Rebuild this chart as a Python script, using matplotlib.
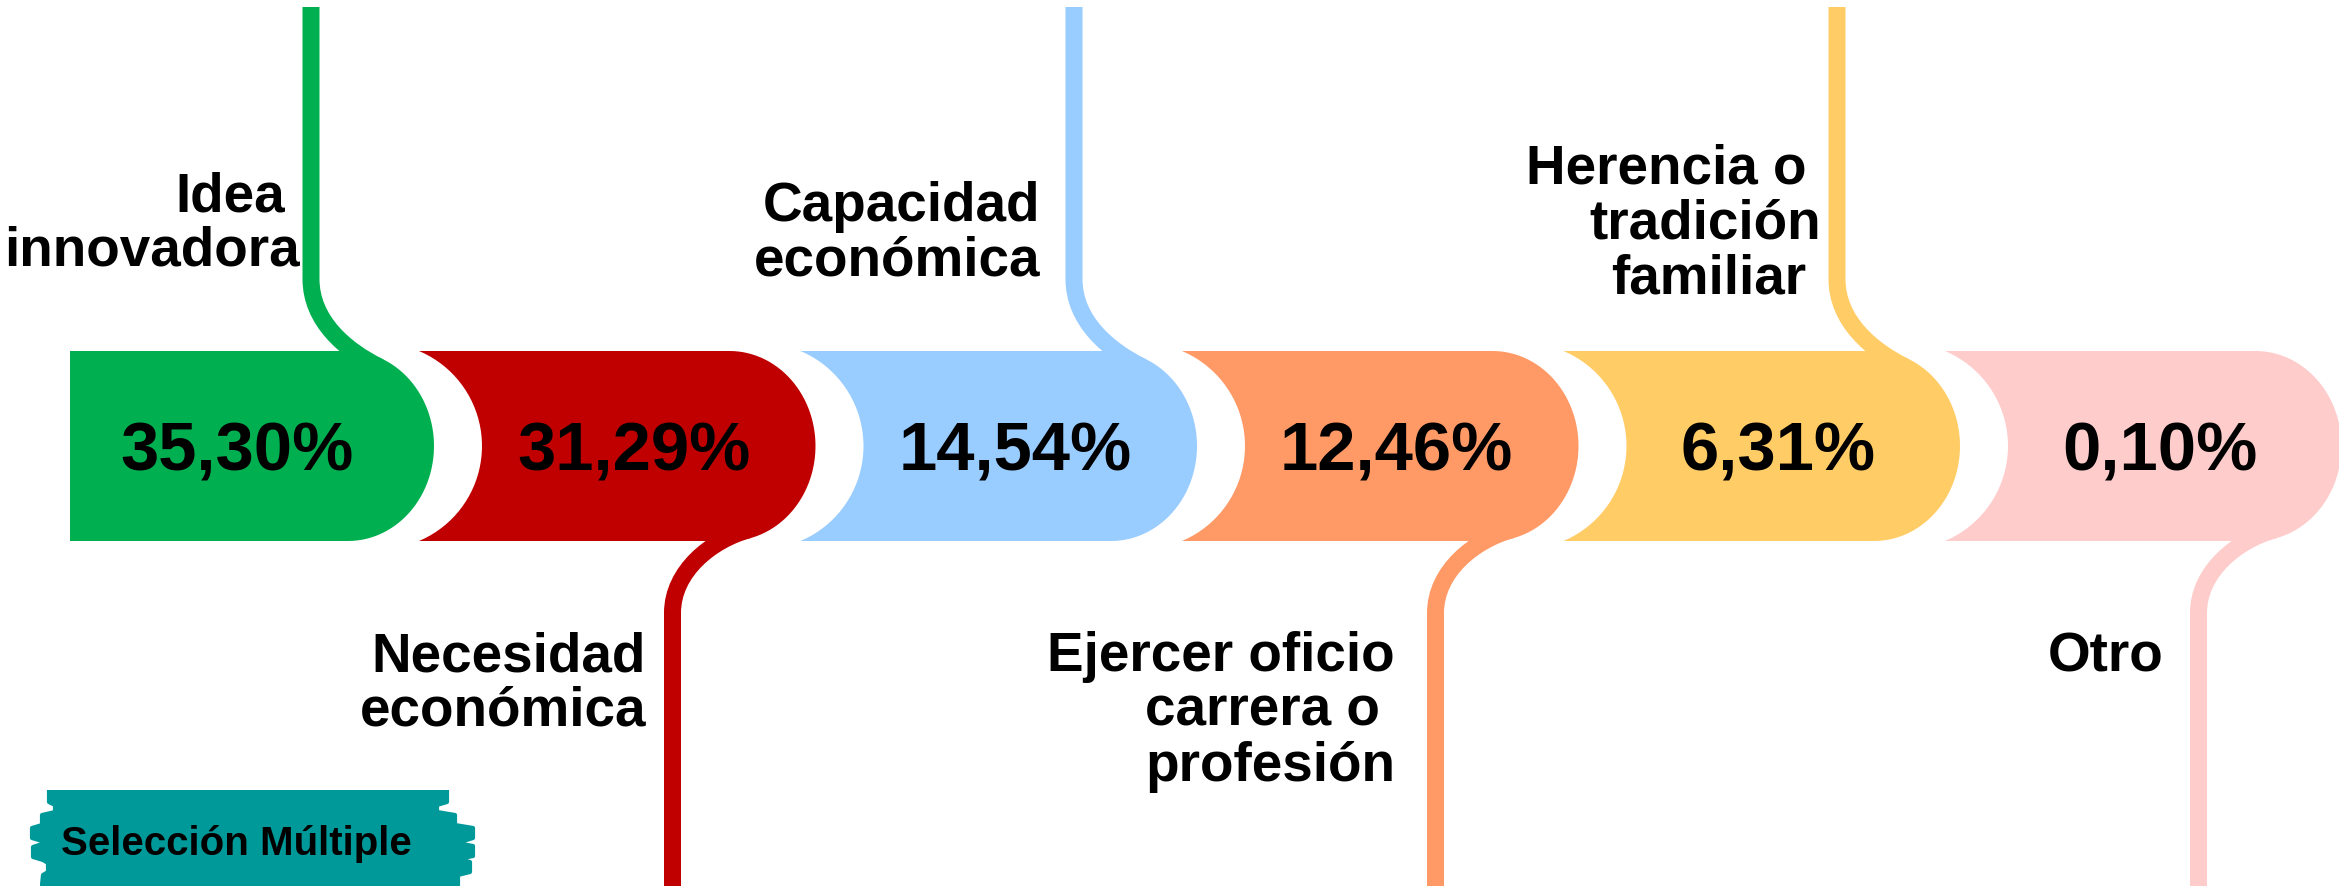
import numpy as np
import matplotlib.pyplot as plt
from matplotlib.path import Path
from matplotlib.patches import PathPatch

# data
labels = [
    ["Idea ", "innovadora"],
    ["Necesidad", "económica"],
    ["Capacidad", "económica"],
    ["Ejercer oficio", "carrera o ", "profesión"],
    ["Herencia o ", "tradición", "familiar "],
    ["Otro"],
]
shares = [35.30, 31.29, 14.54, 12.46, 6.31, 0.10]
colors = ["#00B050", "#C00000", "#99CCFF", "#FF9966", "#FFCC66", "#FFCCCC"]
badge_text = "Selección Múltiple"

# layout (pixels of the 2339x886 canvas)
W, H = 2339, 886
top, bot = 351, 541
mid = (top + bot) / 2
hh = (bot - top) / 2
period = 381.5
cap0 = 339          # rightmost point of first piece is cap0 + hh
cap_rx = 86         # horizontal radius of the rounded end
first_left = 70
cut_gap = 80        # next piece starts this far right of cap0
cut_depth = 63
lw_px = 17
label_right = [300, 646, 1040, 1395, 1821, 2163]
label_base = [211, 671, 221, 671, 183, 671]   # baseline of first line
space_px = 15
line_px = 55

fig = plt.figure(figsize=(W / 100, H / 100), dpi=100)
ax = fig.add_axes([0, 0, 1, 1])
ax.set_xlim(0, W)
ax.set_ylim(H, 0)
ax.axis("off")

font = "Liberation Sans"

for i, (lab, val, col) in enumerate(zip(labels, shares, colors)):
    cx = cap0 + i * period
    ecx = cx + hh - cap_rx
    left = first_left if i == 0 else cx - period + cut_gap

    pts = []
    # left edge, bottom to top
    if i == 0:
        pts += [(left, bot), (left, top)]
    else:
        R = (hh ** 2 + cut_depth ** 2) / (2 * cut_depth)
        ccx = left + cut_depth - R
        phi = np.arcsin(hh / R)
        for a in np.linspace(phi, -phi, 40):
            pts.append((ccx + R * np.cos(a), mid + R * np.sin(a)))
    # top edge and rounded right end
    for a in np.linspace(-np.pi / 2, np.pi / 2, 60):
        pts.append((ecx + cap_rx * np.cos(a), mid + hh * np.sin(a)))
    pts.append((left, bot))
    ax.add_patch(PathPatch(Path(pts, closed=False), fc=col, ec="none", zorder=2))

    # connector line: straight drop, then bends and runs tangent into the cap
    up = i % 2 == 0
    s = -1 if up else 1
    lx = cx - 28 if up else cx - 48
    th = np.radians(24 if up else 14)
    a_in, b_in = cap_rx - lw_px / 2, hh - lw_px / 2
    ex, ey = ecx + a_in * np.sin(th), mid + s * b_in * np.cos(th)
    tx, ty = a_in * np.cos(th), -s * b_in * np.sin(th)
    tn = np.hypot(tx, ty)
    tx, ty = tx / tn, ty / tn
    edge = top if up else bot
    far = 7 if up else H
    verts = [(lx, far), (lx, edge + s * 72), (lx, edge + s * 30),
             (ex - 38 * tx, ey - 38 * ty), (ex, ey)]
    codes = [Path.MOVETO, Path.LINETO, Path.CURVE4, Path.CURVE4, Path.CURVE4]
    ax.add_patch(PathPatch(Path(verts, codes), fc="none", ec=col,
                           lw=lw_px * 0.72, capstyle="butt", zorder=1))

    # value
    ax.text((left + (cut_depth if i else 0) + cx + hh) / 2 - 15, mid + 24,
            f"{val:.2f}%".replace(".", ","), ha="center", va="baseline",
            fontsize=49.5, fontweight="bold", family=font, zorder=3)

    # category label
    for k, line in enumerate(lab):
        xr = label_right[i] - (space_px if line.endswith(" ") else 0)
        ax.text(xr, label_base[i] + k * line_px, line.rstrip(), ha="right",
                va="baseline", fontsize=39.5, fontweight="bold", family=font)

# badge
bl = [(49, 790), (49, 802), (55, 805), (55, 812), (42, 815), (42, 825), (32, 828),
      (32, 838), (42, 841), (42, 844), (33, 847), (33, 857), (43, 860), (48, 863),
      (48, 872), (43, 875), (42, 885)]
br = [(458, 885), (458, 875), (470, 872), (470, 862), (458, 859), (473, 856),
      (473, 846), (457, 843), (473, 838), (473, 828), (455, 825), (455, 815),
      (437, 812), (437, 805), (447, 802), (447, 790)]
ax.add_patch(PathPatch(Path(bl + br, closed=False), fc="#009999", ec="#009999",
                       lw=3, joinstyle="round", zorder=2))
ax.text(236, 855, badge_text, ha="center", va="baseline", fontsize=29,
        fontweight="bold", family=font, zorder=3)

fig.savefig("out.png", dpi=100)
